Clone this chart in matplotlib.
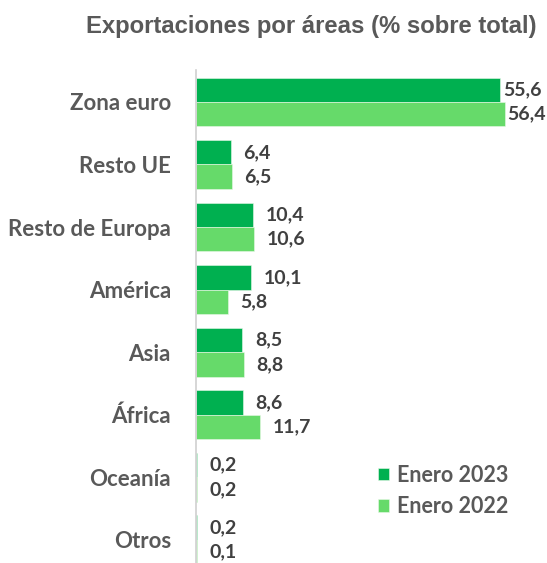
import matplotlib
matplotlib.use("Agg")
import matplotlib.pyplot as plt
import numpy as np

categories = ["Zona euro", "Resto UE", "Resto de Europa", "América", "Asia", "África", "Oceanía", "Otros"]
enero_2023 = [55.6, 6.4, 10.4, 10.1, 8.5, 8.6, 0.2, 0.2]
enero_2022 = [56.4, 6.5, 10.6, 5.8, 8.8, 11.7, 0.2, 0.1]
series_names = ["Enero 2023", "Enero 2022"]
title = "Exportaciones por áreas (% sobre total)"

C_DARK = "#00B050"
C_LIGHT = "#66DA6A"
TXT = "#595959"
LBL_FONT = ["Lato", "DejaVu Sans"]

W, H = 547, 563
fig = plt.figure(figsize=(W / 100, H / 100), dpi=100)
ax = fig.add_axes([196 / W, 0, 344 / W, (563 - 70) / H])

y = np.arange(len(categories))
h = 0.39
ax.barh(y - h / 2, enero_2023, height=h, color=C_DARK, edgecolor="#e8f8e8", linewidth=0.4, label=series_names[0])
ax.barh(y + h / 2, enero_2022, height=h, color=C_LIGHT, edgecolor="#e8f8e8", linewidth=0.4, label=series_names[1])

ax.set_xlim(0, 344 / 5.47)
ax.set_ylim(7.37, -0.51)

for vals, off in ((enero_2023, -h / 2), (enero_2022, h / 2)):
    for i, v in enumerate(vals):
        pad = 2 if v > 40 else 9
        ax.annotate(f"{v:.1f}".replace(".", ","), xy=(v, i + off), xytext=(pad, 0),
                    textcoords="offset points", va="center", ha="left",
                    fontsize=14, fontweight="bold", color="#404040", family=LBL_FONT)

ax.set_yticks(y)
ax.set_yticklabels(categories, fontsize=16, fontweight="bold", color=TXT, family=LBL_FONT)
ax.tick_params(axis="y", length=0, pad=18)
ax.set_xticks([])
for s in ("top", "right", "bottom"):
    ax.spines[s].set_visible(False)
ax.spines["left"].set_color("#d0d0d0")
ax.spines["left"].set_linewidth(1.2)

fig.text(311 / W, 1 - 27 / H, title, ha="center", va="center", fontsize=17.2,
         fontweight="bold", color=TXT, family=["Liberation Sans", "DejaVu Sans"])

leg = ax.legend(loc="center left", bbox_to_anchor=(378 / W, 1 - 491 / H), bbox_transform=fig.transFigure,
                frameon=False, borderpad=0, borderaxespad=0,
                handlelength=0.52, handleheight=0.52, handletextpad=0.38,
                labelspacing=0.5, prop={"family": LBL_FONT, "size": 15.5, "weight": "bold"})
for t in leg.get_texts():
    t.set_color(TXT)

fig.savefig("out.png", dpi=100)
